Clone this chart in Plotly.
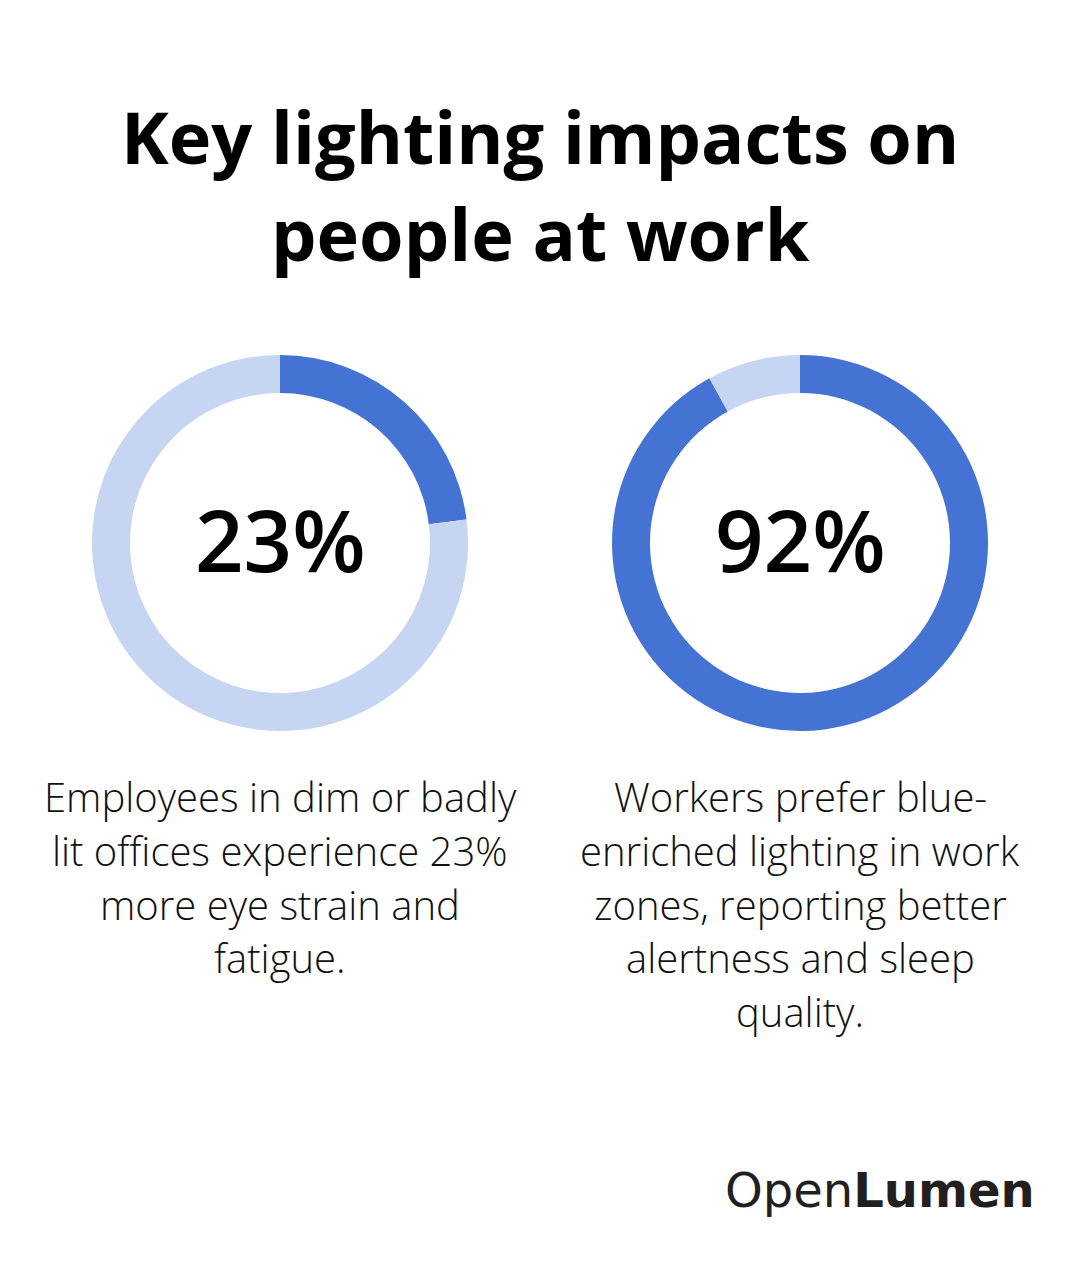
import plotly.graph_objects as go

title_lines = ["Key lighting impacts on", "people at work"]
values = [23, 92]
labels = ["23%", "92%"]
descriptions = [
    ["Employees in dim or badly", "lit offices experience 23%", "more eye strain and", "fatigue."],
    ["Workers prefer blue-", "enriched lighting in work", "zones, reporting better", "alertness and sleep", "quality."],
]
brand_regular = "Open"
brand_bold = "Lumen"

DARK = "#4473D3"
LIGHT = "#C6D5F1"
W, H = 1080, 1272


def py(y):
    return (H - y) / H


fig = go.Figure()

centers_x = [280, 800]
cy = 543
R = 188
for i, (v, cx) in enumerate(zip(values, centers_x)):
    fig.add_trace(go.Pie(
        values=[v, 100 - v],
        sort=False,
        direction="clockwise",
        rotation=0,
        hole=150 / 188,
        marker=dict(colors=[DARK, LIGHT], line=dict(width=0)),
        textinfo="none",
        hoverinfo="skip",
        showlegend=False,
        domain=dict(x=[(cx - R) / W, (cx + R) / W], y=[py(cy + R), py(cy - R)]),
    ))
    fig.add_annotation(
        x=cx / W, y=py(cy - 4), xref="paper", yref="paper",
        text=labels[i], showarrow=False, xanchor="center", yanchor="middle",
        font=dict(family="Open Sans", size=85, color="#000000", weight=600),
    )
    for j, line in enumerate(descriptions[i]):
        fig.add_annotation(
            x=cx / W, y=py(797 + j * 53.5), xref="paper", yref="paper",
            text=line, showarrow=False, xanchor="center", yanchor="middle",
            font=dict(family="Open Sans", size=40, color="#111111", weight=300),
        )

for k, line in enumerate(title_lines):
    fig.add_annotation(
        x=0.5, y=py(85 + k * 97), xref="paper", yref="paper",
        text=line, showarrow=False, xanchor="center", yanchor="top",
        font=dict(family="Open Sans", size=72, color="#000000", weight=700),
    )

fig.add_annotation(
    x=1037 / W, y=py(1190), xref="paper", yref="paper",
    text=f"{brand_regular}<b>{brand_bold}</b>", showarrow=False,
    xanchor="right", yanchor="middle",
    font=dict(family="DejaVu Sans", size=48, color="#231F20"),
)

fig.update_layout(
    width=W, height=H,
    margin=dict(l=0, r=0, t=0, b=0),
    paper_bgcolor="#FFFFFF",
    plot_bgcolor="#FFFFFF",
)

fig.write_html("out.html")
